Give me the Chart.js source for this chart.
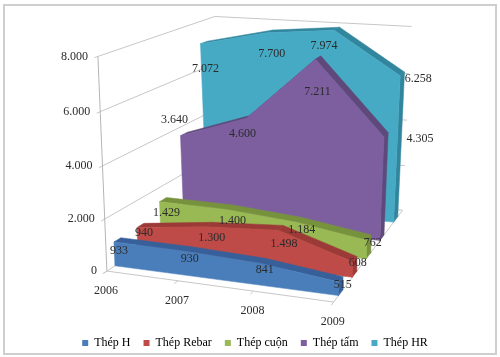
<!DOCTYPE html>
<html>
<head>
<meta charset="utf-8">
<style>
  html, body { margin: 0; padding: 0; background: #fff; }
  canvas { display: block; }
</style>
<script src="https://cdn.jsdelivr.net/npm/chart.js@4"></script>
</head>
<body>
<canvas id="chart" width="500" height="357"></canvas>
<script>
// values
const years = ['2006', '2007', '2008', '2009'];
const thepH = [933, 930, 841, 515];
const thepRebar = [940, 1300, 1498, 608];
const thepCuon = [1429, 1400, 1184, 762];
const thepTam = [3640, 4600, 7211, 4305];
const thepHR = [7072, 7700, 7974, 6258];
const valueTicks = [0, 2000, 4000, 6000, 8000];
const seriesNames = ['Thép H', 'Thép Rebar', 'Thép cuộn', 'Thép tấm', 'Thép HR'];

const seriesValues = [thepH, thepRebar, thepCuon, thepTam, thepHR];
const faceColors = ['#4a7ebb', '#be4b48', '#98b954', '#7d5fa0', '#46aac4'];
const topColors = ['#37609a', '#9c3a38', '#76923c', '#5f497a', '#31859c'];

// label nudges from the projected top of each point, in px
const labelNudge = [
  [[5, 9], [5, 8], [5, 7], [4, 3]],
  [[7, 5], [6, 11], [6, 14], [5, 1]],
  [[7, 11], [6, 11], [6, 8], [6, 3]],
  [[-6, -16], [-4, 16], [2, 33], [36, 2]],
  [[5, 25], [5, 21], [-10, 16], [18, 3]]
];

// the 3D box as it sits on the canvas (front/back, left/right, bottom/top)
const box = {
  fb: [[107, 271], [334, 302]],
  bb: [[222, 196], [403, 210]],
  ft: [[98, 56], [339, 80]],
  bt: [[215, 16], [412, 26]]
};
const maxValue = 8000;

function mix(a, b, t) {
  return [a[0] + (b[0] - a[0]) * t, a[1] + (b[1] - a[1]) * t];
}

// u: along years 0..1, v: depth 0..1, value: data value
function project(u, v, value) {
  let w = value / maxValue;
  w = w - 0.04 * w * (1 - w);
  const uu = u - 0.09 * (1 - v) * u * (1 - u);
  const bottom = mix(mix(box.fb[0], box.fb[1], uu), mix(box.bb[0], box.bb[1], uu), v);
  const top = mix(mix(box.ft[0], box.ft[1], uu), mix(box.bt[0], box.bt[1], uu), v);
  const p = mix(bottom, top, w);
  return { x: p[0], y: p[1] };
}

function yearPos(i) {
  return i / (years.length - 1);
}

function shape(points, color) {
  return {
    data: points,
    showLine: true,
    fill: 'shape',
    backgroundColor: color,
    borderColor: color,
    borderWidth: 0.5,
    pointRadius: 0,
    tension: 0,
    clip: false
  };
}

function line(points, color) {
  return {
    data: points,
    showLine: true,
    fill: false,
    borderColor: color,
    borderWidth: 1,
    pointRadius: 0,
    tension: 0,
    clip: false
  };
}

function buildDatasets() {
  const back2front = [];
  const gridColor = '#c9c6c6';

  // walls and floor
  valueTicks.forEach(t => {
    back2front.push(line([project(0, -0.03, t), project(0, 0, t), project(0, 1, t), project(1, 1, t)], gridColor));
  });
  back2front.push(line([project(0, 0, 0), project(0, 0, maxValue)], '#b5b5b5'));
  back2front.push(line([project(0, 0, 0), project(1, 0, 0), project(1, 1, 0)], gridColor));
  years.forEach((y, i) => {
    back2front.push(line([project(yearPos(i), 0, 0), project(yearPos(i), -0.035, 0)], gridColor));
  });

  // HR is furthest back, H is nearest
  for (let s = seriesValues.length - 1; s >= 0; s--) {
    const vals = seriesValues[s];
    const vf = (s + 0.35) / seriesValues.length;
    const vb = (s + 0.65) / seriesValues.length;
    const last = vals.length - 1;

    back2front.push(shape([
      project(1, vf, 0), project(1, vb, 0), project(1, vb, vals[last]), project(1, vf, vals[last]), project(1, vf, 0)
    ], topColors[s]));

    for (let i = 0; i < last; i++) {
      const a = yearPos(i);
      const b = yearPos(i + 1);
      back2front.push(shape([
        project(a, vf, vals[i]), project(a, vb, vals[i]), project(b, vb, vals[i + 1]), project(b, vf, vals[i + 1]), project(a, vf, vals[i])
      ], topColors[s]));
    }

    const front = [project(0, vf, 0)];
    vals.forEach((val, i) => front.push(project(yearPos(i), vf, val)));
    front.push(project(1, vf, 0), project(0, vf, 0));
    back2front.push(shape(front, faceColors[s]));
  }

  // chart.js paints the first dataset last
  return back2front.reverse();
}

function formatNumber(value) {
  return String(value).replace(/\B(?=(\d{3})+$)/g, '.');
}

const textPlugin = {
  id: 'textPlugin',
  beforeDraw(chart) {
    const ctx = chart.ctx;
    ctx.save();
    ctx.strokeStyle = '#cfcfcf';
    ctx.lineWidth = 2;
    ctx.strokeRect(4, 5, 492, 349);
    ctx.restore();
  },
  afterDatasetsDraw(chart) {
    const ctx = chart.ctx;
    const sx = chart.scales.x;
    const sy = chart.scales.y;
    const put = (text, p, dx, dy) => {
      ctx.fillText(text, sx.getPixelForValue(p.x) + dx, sy.getPixelForValue(p.y) + dy);
    };

    ctx.save();
    ctx.font = '12px "Liberation Serif"';
    ctx.fillStyle = '#2b2b2b';
    ctx.textBaseline = 'middle';

    ctx.textAlign = 'right';
    valueTicks.forEach(t => put(formatNumber(t), project(0, 0, t), -10, 0));

    ctx.textAlign = 'center';
    years.forEach((y, i) => put(y, project(yearPos(i), 0, 0), -1, 20));

    seriesValues.forEach((vals, s) => {
      const vf = (s + 0.35) / seriesValues.length;
      vals.forEach((val, i) => {
        const n = labelNudge[s][i];
        put(formatNumber(val), project(yearPos(i), vf, val), n[0], n[1]);
      });
    });
    ctx.restore();
  }
};

const chart = new Chart(document.getElementById('chart'), {
  type: 'scatter',
  data: { datasets: buildDatasets() },
  plugins: [textPlugin],
  options: {
    responsive: false,
    animation: false,
    layout: { padding: { left: 10, bottom: -2 } },
    scales: {
      x: { display: false, min: 0, max: 500 },
      y: { display: false, min: 0, max: 357, reverse: true }
    },
    plugins: {
      tooltip: { enabled: false },
      legend: {
        position: 'bottom',
        onClick: null,
        labels: {
          boxWidth: 6,
          boxHeight: 6,
          padding: 13,
          color: '#2b2b2b',
          font: { family: '"Liberation Serif"', size: 12 },
          generateLabels: () => seriesNames.map((name, i) => ({
            text: name,
            fillStyle: faceColors[i],
            strokeStyle: faceColors[i],
            lineWidth: 0,
            hidden: false
          }))
        }
      }
    }
  }
});

// match the scales to the area the legend leaves, so the box stays in place
chart.options.scales.x.min = chart.chartArea.left;
chart.options.scales.x.max = chart.chartArea.right;
chart.options.scales.y.min = chart.chartArea.top;
chart.options.scales.y.max = chart.chartArea.bottom;
chart.update('none');
</script>
</body>
</html>
